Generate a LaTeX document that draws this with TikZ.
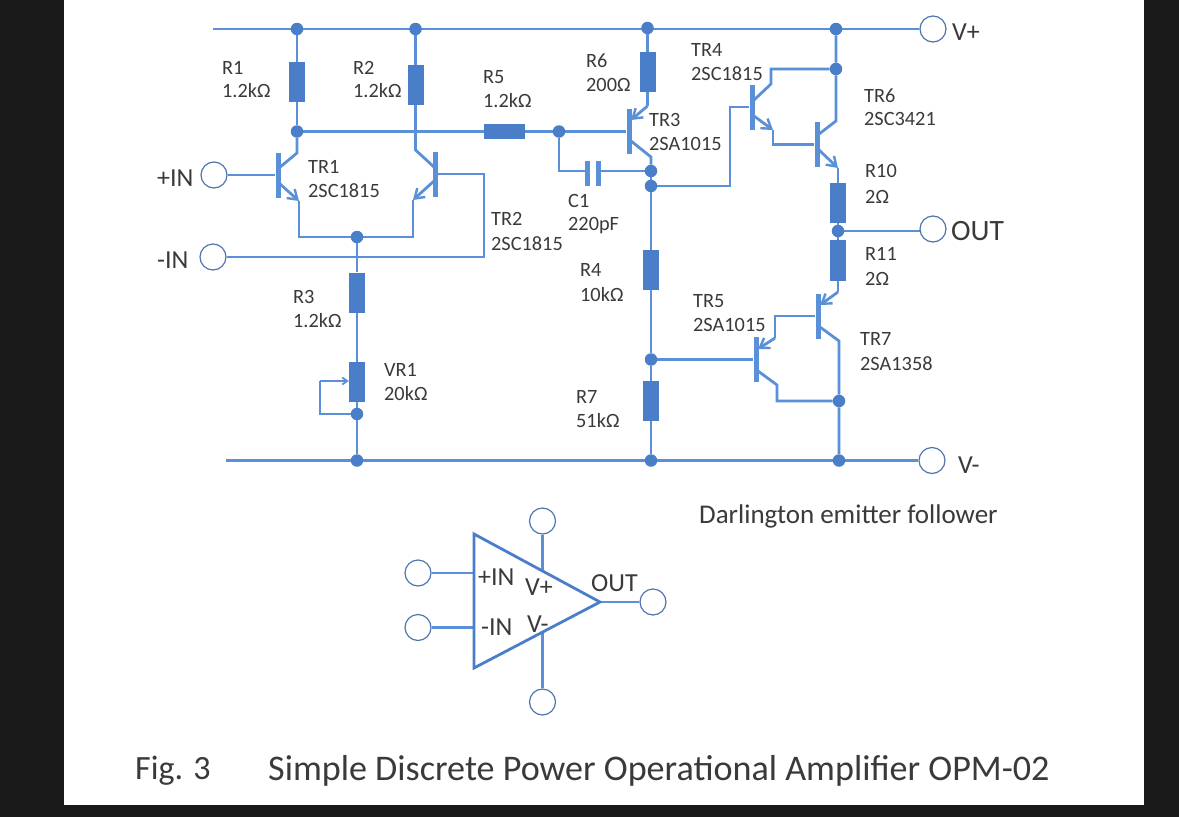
\documentclass[tikz,border=0pt]{standalone}
\usepackage{fontspec}
\setmainfont{Carlito}
\usetikzlibrary{arrows.meta}
\definecolor{wirec}{HTML}{5A90D8}
\definecolor{fillc}{HTML}{4A7EC8}
\definecolor{ringc}{HTML}{4F76AE}
\definecolor{txt}{HTML}{3A3A3A}
\pgfdeclarelayer{bgl}
\pgfdeclarelayer{wires}
\pgfsetlayers{bgl,wires,main}
\tikzset{
 wire/.style={draw=wirec,line width=2.8pt,line join=miter},
 arr/.style={wire,-{Straight Barb[length=9pt,width=12pt,line width=2.4pt]}},
 res/.style={draw=none,fill=fillc,inner sep=0pt,minimum width=16pt,minimum height=40pt},
 hres/.style={draw=none,fill=fillc,inner sep=0pt,minimum width=41pt,minimum height=15pt},
 bar/.style={draw=none,fill=wirec,inner sep=0pt,minimum width=5pt,minimum height=45pt},
 plate/.style={draw=none,fill=wirec,inner sep=0pt,minimum width=5pt,minimum height=25pt},
 dot/.style={circle,draw=none,fill=fillc,inner sep=0pt,minimum size=12.5pt},
 term/.style={circle,draw=ringc,line width=1.2pt,fill=white,inner sep=0pt,minimum size=26pt},
 lab/.style={anchor=west,inner sep=0pt,text=txt,font=\fontsize{20.3}{22}\selectfont},
 big/.style={anchor=west,inner sep=0pt,text=txt,font=\fontsize{26}{28}\selectfont},
 bigger/.style={anchor=west,inner sep=0pt,text=txt,font=\fontsize{29.5}{31}\selectfont},
 capt/.style={anchor=west,inner sep=0pt,text=txt,font=\fontsize{27}{29}\selectfont},
 ttl/.style={anchor=west,inner sep=0pt,text=txt,font=\fontsize{36.1}{38}\selectfont},
 fig/.style={anchor=west,inner sep=0pt,text=txt,font=\fontsize{34}{37}\selectfont},
}
\begin{document}
\begin{tikzpicture}[x=1pt,y=-1pt]
\useasboundingbox (0,0) rectangle (1179,817);
\begin{pgfonlayer}{bgl}
\fill[black!90] (0,0) rectangle (1179,817);
\fill[white] (64,0) rectangle (1144,805);
\end{pgfonlayer}
% rail ends
\coordinate (railTL) at (213,29);
\coordinate (railBL) at (226,460.5);
% terminals
\node[term] (inP) at (214,175) {};
\node[term] (inN) at (213,257) {};
\node[term] (vP) at (933,29) {};
\node[term] (vN) at (932,460.5) {};
\node[term] (out) at (933,229) {};
% resistors
\node[res] (R1) at (297,82) {};
\node[res] (R2) at (415.5,85) {};
\node[hres] (R5) at (504.5,131.5) {};
\node[res] (R6) at (647.5,72) {};
\node[res] (R3) at (357,292.5) {};
\node[res] (VR1) at (357,382) {};
\node[res] (R4) at (651,270) {};
\node[res] (R7) at (651,401) {};
\node[res] (R10) at (838,203) {};
\node[res,minimum height=41pt] (R11) at (838,260.5) {};
% junctions
\node[dot] (jT1) at (297,29) {};
\node[dot] (jT2) at (415.5,29) {};
\node[dot] (jT3) at (647.5,28) {};
\node[dot] (jT4) at (836,29) {};
\node[dot] (jC1) at (297,131.5) {};
\node[dot] (jE) at (357,237) {};
\node[dot] (jB3) at (559,131.5) {};
\node[dot] (jC3) at (651,171) {};
\node[dot] (jB4) at (651,186) {};
\node[dot] (jC4) at (836,69) {};
\node[dot] (jOut) at (838,231) {};
\node[dot] (jB5) at (651,359.5) {};
\node[dot] (jC5) at (839,401) {};
\node[dot] (jW) at (357,414) {};
\node[dot] (jB1) at (357,460.5) {};
\node[dot] (jB2) at (651,460.5) {};
\node[dot] (jB3r) at (839,460.5) {};
% transistor bars
\node[bar] (T1) at (278,175) {};
\node[bar] (T2) at (435,174) {};
\node[bar] (T3) at (629,131.5) {};
\node[bar] (T4) at (752,107) {};
\node[bar] (T6) at (817,144.5) {};
\node[bar] (T7) at (818,316) {};
\node[bar] (T5) at (756,359.5) {};
% capacitor
\node[plate] (C1a) at (587,173.5) {};
\node[plate] (C1b) at (598,173.5) {};
\begin{pgfonlayer}{wires}
% rails
\draw[wire] (railTL) -- (vP);
\draw[wire] (railBL) -- (vN);
% TR1 / TR2 pair
\draw[wire] (jT1) -- (R1) -- (jC1);
\draw[wire] (jT2) -- (R2);
\draw[wire] (jC1) -- (R5) -- (jB3);
\draw[wire] (inP) -- (T1);
\coordinate (a1) at (297,153); \coordinate (a2) at (279,168);
\draw[wire] (jC1) -- (a1) -- (a2);
\coordinate (a3) at (280,184); \coordinate (a4) at (299,201);
\draw[arr] (a3) -- (a4);
\coordinate (a5) at (299,237); \coordinate (a6) at (413,237);
\coordinate (b4) at (413,200); \coordinate (b3) at (434,181);
\draw[wire] (a4) -- (a5) -- (a6) -- (b4);
\draw[arr] (b3) -- (b4);
\coordinate (b1) at (415.5,150); \coordinate (b2) at (434,167);
\draw[wire] (R2) -- (b1) -- (b2);
\coordinate (b5) at (484,174); \coordinate (b6) at (484,257);
\draw[wire] (T2) -- (b5) -- (b6) -- (inN);
% R3, VR1
\draw[wire] (jE) -- (R3) -- (VR1) -- (jW) -- (jB1);
\coordinate (w1) at (320,414); \coordinate (w2) at (320,381);
\draw[wire,line width=2.2pt] (jW) -- (w1) -- (w2);
\draw[wire,line width=2.2pt,-{Straight Barb[length=5pt,width=7pt,line width=1.8pt]}] (w2) -- (VR1.west |- w2);
% TR3
\draw[wire] (jT3) -- (R6);
\coordinate (c1) at (647.5,106);
\coordinate (c2) at (631,120);
\draw[wire] (R6) -- (c1);
\draw[arr] (c1) -- (c2);
\draw[wire] (jB3) -- (T3);
\coordinate (c3) at (631,141); \coordinate (c4) at (651,157);
\draw[wire] (c3) -- (c4) -- (jC3);
\coordinate (c5) at (559,171);
\draw[wire] (jB3) -- (c5) -- (C1a.center |- c5);
\draw[wire] (C1b.center |- jC3) -- (jC3);
\draw[wire] (jC3) -- (jB4);
\draw[wire] (jB4) -- (R4) -- (jB5) -- (R7) -- (jB2);
% TR4 / TR6
\coordinate (d1) at (730,186); \coordinate (d2) at (730,107);
\draw[wire] (jB4) -- (d1) -- (d2) -- (T4);
\coordinate (d3) at (754,100); \coordinate (d4) at (771,84); \coordinate (d5) at (771,69);
\draw[wire] (d3) -- (d4) -- (d5) -- (jC4);
\coordinate (d6) at (754,116); \coordinate (d7) at (773,130); \coordinate (d8) at (773,144.5);
\draw[arr] (d6) -- (d7);
\draw[wire] (d7) -- (d8) -- (T6);
\coordinate (e1) at (836,121); \coordinate (e2) at (819,134);
\draw[wire] (jT4) -- (jC4) -- (e1) -- (e2);
\coordinate (e3) at (819,150); \coordinate (e4) at (838,168);
\draw[arr] (e3) -- (e4);
\draw[wire] (e4) -- (R10);
\draw[wire] (R10) -- (jOut) -- (R11);
\coordinate (o1) at (921,231);
\draw[wire] (jOut) -- (o1);
% TR7 / TR5
\coordinate (f1) at (838,292); \coordinate (f2) at (820,305);
\draw[wire] (R11) -- (f1);
\draw[arr] (f1) -- (f2);
\coordinate (f3) at (775,316); \coordinate (f4) at (775,338); \coordinate (f5) at (758,349);
\draw[wire] (T7) -- (f3) -- (f4);
\draw[arr] (f4) -- (f5);
\draw[wire] (jB5) -- (T5);
\coordinate (f6) at (758,371); \coordinate (f7) at (777,385); \coordinate (f8) at (777,401);
\draw[wire] (f6) -- (f7) -- (f8) -- (jC5);
\coordinate (f9) at (820,327); \coordinate (f10) at (839,341);
\draw[wire] (f9) -- (f10) -- (jC5) -- (jB3r);
\end{pgfonlayer}
% labels
\node[lab] (l1) at (222,68) {R1};
\node[lab] (l2) at (222,91) {1.2kΩ};
\node[lab] (l3) at (353,68) {R2};
\node[lab] (l4) at (353,91) {1.2kΩ};
\node[lab] (l5) at (483,77) {R5};
\node[lab] (l6) at (483,101) {1.2kΩ};
\node[lab] (l7) at (586,61) {R6};
\node[lab] (l8) at (586,85) {200Ω};
\node[lab] (l9) at (691,50) {TR4};
\node[lab] (l10) at (691,74) {2SC1815};
\node[lab] (l11) at (864,96) {TR6};
\node[lab] (l12) at (864,119) {2SC3421};
\node[lab] (l13) at (649,120) {TR3};
\node[lab] (l14) at (649,144) {2SA1015};
\node[lab] (l15) at (308,167) {TR1};
\node[lab] (l16) at (308,191) {2SC1815};
\node[lab] (l17) at (491,219) {TR2};
\node[lab] (l18) at (491,244) {2SC1815};
\node[lab] (l19) at (568,201) {C1};
\node[lab] (l20) at (568,226) {220pF};
\node[lab] (l21) at (580,270) {R4};
\node[lab] (l22) at (580,295) {10kΩ};
\node[lab] (l23) at (293,297) {R3};
\node[lab] (l24) at (293,321) {1.2kΩ};
\node[lab] (l25) at (384,370) {VR1};
\node[lab] (l26) at (384,394) {20kΩ};
\node[lab] (l27) at (576,397) {R7};
\node[lab] (l28) at (576,421) {51kΩ};
\node[lab] (l29) at (693,301) {TR5};
\node[lab] (l30) at (693,325) {2SA1015};
\node[lab] (l31) at (865,171) {R10};
\node[lab] (l32) at (865,197) {2Ω};
\node[lab] (l33) at (865,254) {R11};
\node[lab] (l34) at (865,279) {2Ω};
\node[lab] (l35) at (860,339) {TR7};
\node[lab] (l36) at (860,364) {2SA1358};
\node[big] (l37) at (157,178) {+IN};
\node[big] (l38) at (157,260) {-IN};
\node[big] (l39) at (952,32) {V+};
\node[bigger] (l40) at (951,231) {OUT};
\node[big] (l41) at (958,465) {V-};
\node[capt] (l42) at (699,516) {Darlington emitter follower};
\node[fig] (l43) at (135,771) {Fig. 3};
\node[ttl] (l44) at (268,771) {Simple Discrete Power Operational Amplifier OPM-02};
% op-amp symbol
\coordinate (oA) at (474,534); \coordinate (oB) at (474,668); \coordinate (oC) at (600,602);
\coordinate (oL1) at (474,573); \coordinate (oL2) at (474,627.5);
\coordinate (oT) at (542.5,570); \coordinate (oD) at (542.5,632);
\node[term] (pP) at (418,573) {};
\node[term] (pN) at (418,627.5) {};
\node[term] (pU) at (542.5,521) {};
\node[term] (pD) at (542.5,702) {};
\node[term] (pO) at (653,602) {};
\draw[wire] (pP) -- (oL1);
\draw[wire] (pN) -- (oL2);
\draw[wire] (pU) -- (oT);
\draw[wire] (pD) -- (oD);
\draw[wire] (oC) -- (pO);
\draw[draw=fillc,line width=2.8pt,line join=miter] (oA) -- (oB) -- (oC) -- cycle;
\node[big] (m1) at (478,577) {+IN};
\node[big] (m2) at (481,627) {-IN};
\node[big] (m3) at (525,587) {V+};
\node[big] (m4) at (527,624) {V-};
\node[big] (m5) at (591,583) {OUT};
\end{tikzpicture}
\end{document}
